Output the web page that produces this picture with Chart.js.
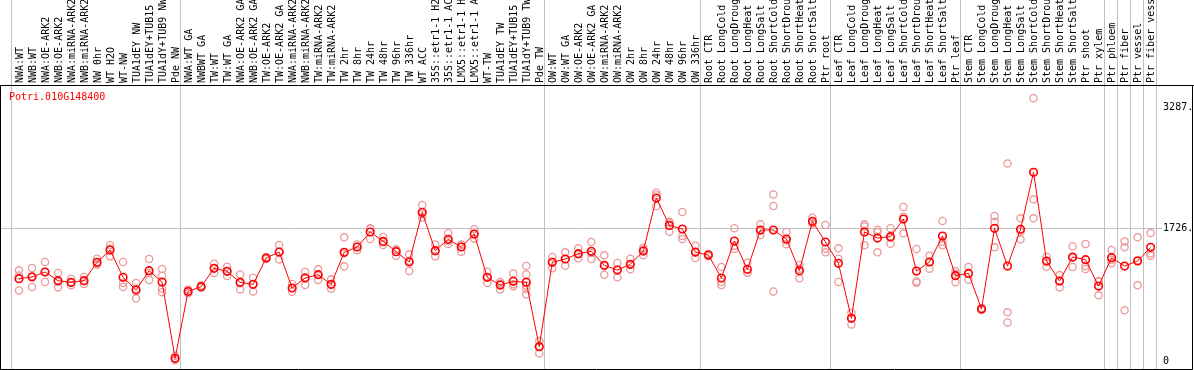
<!DOCTYPE html>
<html>
<head>
<meta charset="utf-8">
<script src="https://cdn.jsdelivr.net/npm/chart.js@4"></script>
<style>
  body { margin: 0; background: #fff; }
  canvas { display: block; }
</style>
</head>
<body>
<canvas id="geneChart" width="1194" height="370"></canvas>
<script>
// Potri.010G148400 expression profile
const geneName = "Potri.010G148400"

const samples = [
    "NWA:WT", "NWB:WT", "NWA:OE-ARK2", "NWB:OE-ARK2", "NWA:miRNA-ARK2", "NWB:miRNA-ARK2",
    "NW 0hr", "WT H2O", "WT-NW", "TUA1dEY NW", "TUA1dEY+TUB15 NW", "TUA1dY+TUB9 NW", "Pde NW",
    "NWA:WT GA", "NWBWT GA", "TW:WT", "TW:WT GA", "NWA:OE-ARK2 GA", "NWB:OE-ARK2 GA",
    "TW:OE-ARK2", "TW:OE-ARK2 GA", "NWA:miRNA-ARK2 GA", "NWB:miRNA-ARK2 GA", "TW:miRNA-ARK2",
    "TW:miRNA-ARK2 GA", "TW 2hr", "TW 8hr", "TW 24hr", "TW 48hr", "TW 96hr", "TW 336hr",
    "WT ACC", "35S::etr1-1 H2O", "35S::etr1-1 ACC", "LMX5::etr1-1 H2O", "LMX5::etr1-1 ACC",
    "WT-TW", "TUA1dEY TW", "TUA1dEY+TUB15 TW", "TUA1dY+TUB9 TW", "Pde TW",
    "OW:WT", "OW:WT GA", "OW:OE-ARK2", "OW:OE-ARK2 GA", "OW:miRNA-ARK2", "OW:miRNA-ARK2 GA",
    "OW 2hr", "OW 8hr", "OW 24hr", "OW 48hr", "OW 96hr", "OW 336hr",
    "Root CTR", "Root LongCold", "Root LongDrought", "Root LongHeat", "Root LongSalt",
    "Root ShortCold", "Root ShortDrought", "Root ShortHeat", "Root ShortSalt", "Ptr root",
    "Leaf CTR", "Leaf LongCold", "Leaf LongDrought", "Leaf LongHeat", "Leaf LongSalt",
    "Leaf ShortCold", "Leaf ShortDrought", "Leaf ShortHeat", "Leaf ShortSalt", "Ptr leaf",
    "Stem CTR", "Stem LongCold", "Stem LongDrought", "Stem LongHeat", "Stem LongSalt",
    "Stem ShortCold", "Stem ShortDrought", "Stem ShortHeat", "Stem ShortSalt", "Ptr shoot",
    "Ptr xylem", "Ptr phloem", "Ptr fiber", "Ptr vessel", "Ptr fiber vessel",
]

const means = [
    1074, 1096, 1161, 1048, 1027, 1048, 1286, 1445, 1092, 928, 1178, 1031, 44,
    910, 971, 1208, 1169, 1027, 1001, 1342, 1419, 954, 1083, 1126, 1001, 1415, 1484, 1678,
    1557, 1424, 1290, 1933, 1437, 1583, 1484, 1652, 1092, 992, 1040, 1027, 194,
    1286, 1329, 1398, 1428, 1247, 1186, 1260, 1432, 2118, 1764, 1717, 1419,
    1380, 1083, 1562, 1195, 1704, 1704, 1588, 1178, 1816, 1549,
    1273, 561, 1678, 1600, 1618, 1846, 1173, 1290, 1626, 1113,
    1143, 682, 1726, 1238, 1713, 2450, 1303, 1044, 1355, 1320, 979,
    1346, 1238, 1303, 1480,
]

// individual replicate values per sample
const replicates = [
    [1182, 1117, 923], [1212, 1110, 966], [1290, 1162, 1031], [1148, 1034, 962],
    [1074, 1019, 988], [1096, 1043, 1005], [1333, 1270, 1255], [1506, 1466, 1363],
    [1290, 1020, 966], [1018, 946, 820], [1329, 1148, 1057], [1199, 1113, 946, 900],
    [78, 44, 20], [935, 910, 885], [985, 971, 958], [1268, 1208, 1148],
    [1229, 1169, 1109], [1130, 1015, 936], [1087, 1006, 910], [1355, 1342, 1329],
    [1510, 1423, 1324], [1005, 951, 906], [1165, 1092, 992], [1195, 1126, 1057],
    [1066, 992, 945], [1609, 1402, 1234], [1518, 1484, 1441], [1726, 1720, 1588],
    [1613, 1548, 1510], [1454, 1446, 1372], [1389, 1308, 1173], [2027, 1909, 1863],
    [1518, 1430, 1363], [1665, 1561, 1523], [1518, 1510, 1424], [1713, 1651, 1592],
    [1165, 1093, 1018], [1031, 1009, 936], [1143, 1002, 975], [1238, 1130, 985, 940, 872],
    [268, 206, 108], [1355, 1295, 1208], [1415, 1330, 1242], [1467, 1389, 1338],
    [1549, 1406, 1329], [1376, 1239, 1126], [1277, 1189, 1092], [1333, 1252, 1195],
    [1475, 1445, 1376], [2187, 2153, 2014], [1812, 1798, 1682], [1937, 1626, 1588],
    [1501, 1414, 1342], [1395, 1380, 1365], [1225, 1032, 992], [1726, 1502, 1458],
    [1281, 1152, 1152], [1777, 1696, 1639], [2165, 2014, 910], [1678, 1567, 1519],
    [1251, 1204, 1079], [1863, 1800, 1785], [1769, 1463, 1415], [1467, 1333, 1031],
    [634, 566, 483], [1777, 1751, 1506], [1708, 1677, 1415], [1726, 1601, 1527],
    [2002, 1875, 1661], [1458, 1039, 1022], [1372, 1294, 1204], [1820, 1552, 1506],
    [1173, 1139, 1027], [1225, 1143, 1061], [695, 682, 670], [1885, 1812, 1480],
    [2566, 639, 509], [1855, 1682, 1583], [3408, 2101, 1855], [1359, 1295, 1229],
    [1121, 1049, 962], [1493, 1347, 1225], [1523, 1238, 1199], [1044, 1034, 859],
    [1445, 1320, 1273], [1557, 1480, 665], [1609, 1312, 988], [1665, 1403, 1372],
]

const yTicks = [0, 1726, 3287]
const gridValue = 1726
// index of first sample in each group (88 = end)
const groupStarts = [0, 13, 41, 53, 63, 73, 84, 85, 86, 87, 88]

const repPoints = []
replicates.forEach((reps, i) => {
    reps.forEach(v => repPoints.push({ x: samples[i], y: v }))
})

const MONO = "'DejaVu Sans Mono', monospace"

// frame, group separators, the single grid line and the gene name
const framePlugin = {
    id: "frame",
    beforeDatasetsDraw(chart) {
        const c = chart.ctx
        const xs = chart.scales.x
        const ys = chart.scales.y
        const area = chart.chartArea
        const step = xs.getPixelForValue(1) - xs.getPixelForValue(0)
        c.save()
        c.strokeStyle = "#c0c0c0"
        c.lineWidth = 1
        groupStarts.forEach(k => {
            const px = Math.round(xs.getPixelForValue(0) + (k - 0.5) * step - 1.5) + 0.5
            c.beginPath()
            c.moveTo(px, 0)
            c.lineTo(px, area.bottom)
            c.stroke()
        })
        const gy = Math.round(ys.getPixelForValue(gridValue)) + 0.5
        c.beginPath()
        c.moveTo(1, gy)
        c.lineTo(1162, gy)
        c.stroke()
        c.restore()
    },
    afterDraw(chart) {
        const c = chart.ctx
        const area = chart.chartArea
        c.save()
        c.strokeStyle = "#000"
        c.lineWidth = 1
        c.beginPath()
        c.moveTo(0, area.top + 0.5)
        c.lineTo(chart.width, area.top + 0.5)
        c.moveTo(0.5, area.top)
        c.lineTo(0.5, area.bottom + 0.5)
        c.lineTo(1192.5, area.bottom + 0.5)
        c.lineTo(1192.5, area.top)
        c.stroke()
        c.fillStyle = "#ff0000"
        c.font = "10px " + MONO
        c.textBaseline = "middle"
        c.fillText(geneName, 9, area.top + 12)
        c.restore()
    },
}

var ctx = document.getElementById("geneChart").getContext("2d")
const config = {
    type: "line",
    data: {
        labels: samples,
        datasets: [
            {
                label: "mean",
                data: means,
                borderColor: "#ff0000",
                borderWidth: 1,
                tension: 0,
                pointRadius: 3.8,
                pointBorderWidth: 1.6,
                pointBorderColor: "#ff0000",
                pointBackgroundColor: "rgba(0,0,0,0)",
                order: 0,
            },
            {
                label: "replicates",
                data: repPoints,
                showLine: false,
                pointRadius: 3.6,
                pointBorderWidth: 1.3,
                pointBorderColor: "#eb9a9a",
                pointBackgroundColor: "rgba(0,0,0,0)",
                order: 1,
            },
        ],
    },
    options: {
        responsive: false,
        animation: false,
        devicePixelRatio: 1,
        layout: { autoPadding: false, padding: { left: 12.5, right: 0, top: 0, bottom: 1 } },
        plugins: {
            legend: { display: false },
            tooltip: { enabled: false },
        },
        scales: {
            x: {
                type: "category",
                position: "top",
                offset: true,
                grid: { display: false, drawTicks: false },
                border: { display: false },
                ticks: {
                    autoSkip: false,
                    minRotation: 90,
                    maxRotation: 90,
                    padding: 2,
                    labelOffset: 13,
                    color: "#000",
                    font: { family: MONO, size: 10 },
                },
                afterFit: (scale) => {
                    scale.height = 85
                    scale.paddingLeft = 0
                    scale.paddingRight = 0
                },
            },
            y: {
                position: "right",
                min: -94,
                max: 3580,
                grid: { display: false, drawTicks: false },
                border: { display: false },
                afterBuildTicks: (scale) => { scale.ticks = yTicks.map(v => ({ value: v })) },
                ticks: {
                    padding: 6,
                    color: "#000",
                    font: { family: MONO, size: 10 },
                    callback: (v) => (v === 0 ? "0" : v + "."),
                },
                afterFit: (scale) => {
                    scale.width = 36.9
                    scale.paddingTop = 0
                    scale.paddingBottom = 0
                },
            },
        },
    },
    plugins: [framePlugin],
}
var geneChart = new Chart(ctx, config)
</script>
</body>
</html>
